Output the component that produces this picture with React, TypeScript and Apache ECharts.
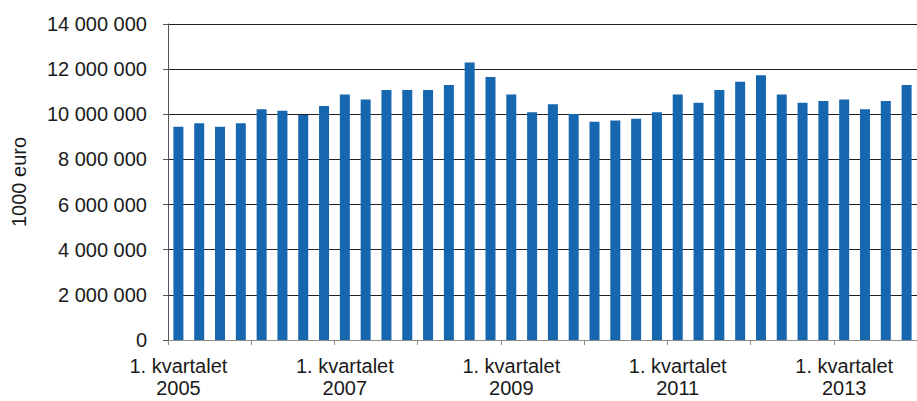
import React, { useEffect, useRef } from "react";
import * as echarts from "echarts";

const years = [2005, 2006, 2007, 2008, 2009, 2010, 2011, 2012, 2013];
const quarters = ["1. kvartalet", "2. kvartalet", "3. kvartalet", "4. kvartalet"];
const categories: string[] = [];
years.forEach((y) => quarters.forEach((q) => categories.push(`${q}\n${y}`)));

const values = [
  9450000, 9600000, 9450000, 9600000,
  10220000, 10160000, 9970000, 10370000,
  10880000, 10660000, 11080000, 11080000,
  11080000, 11300000, 12290000, 11650000,
  10880000, 10090000, 10440000, 10010000,
  9670000, 9730000, 9800000, 10090000,
  10880000, 10510000, 11080000, 11440000,
  11730000, 10880000, 10510000, 10590000,
  10660000, 10220000, 10590000, 11300000,
];

const yTicks = { min: 0, max: 14000000, interval: 2000000 };
const yName = "1000 euro";

const fmt = (v: number) => String(v).replace(/\B(?=(\d{3})+(?!\d))/g, " ");

export default function App() {
  const ref = useRef<HTMLDivElement>(null);
  useEffect(() => {
    if (!ref.current) return;
    const chart = echarts.init(ref.current, undefined, { renderer: "svg" });
    const font = "Liberation Sans, Arial, sans-serif";
    chart.setOption({
      animation: false,
      backgroundColor: "#ffffff",
      grid: { left: 168, top: 24, width: 756, height: 316, containLabel: false },
      xAxis: {
        type: "category",
        data: categories,
        boundaryGap: true,
        axisLine: { show: true, lineStyle: { color: "#8c8c8c", width: 1 } },
        axisTick: {
          show: true,
          length: 5,
          interval: (i: number) => i % 4 === 0,
          lineStyle: { color: "#8c8c8c" },
        },
        axisLabel: {
          interval: (i: number) => i % 8 === 0,
          color: "#1a1a1a",
          fontFamily: font,
          fontSize: 20,
          lineHeight: 22,
          margin: 15,
          align: "center",
        },
        splitLine: { show: false },
      },
      yAxis: {
        type: "value",
        min: yTicks.min,
        max: yTicks.max,
        interval: yTicks.interval,
        name: yName,
        nameLocation: "middle",
        nameGap: 139,
        nameRotate: 90,
        nameTextStyle: { color: "#1a1a1a", fontFamily: font, fontSize: 20 },
        axisLine: { show: true, lineStyle: { color: "#555555", width: 1 } },
        axisTick: { show: true, length: 5, lineStyle: { color: "#555555" } },
        axisLabel: {
          color: "#1a1a1a",
          fontFamily: font,
          fontSize: 20,
          margin: 21,
          formatter: (v: number) => fmt(v),
        },
        splitLine: { show: true, lineStyle: { color: "#1f1f1f", width: 1 } },
      },
      series: [
        {
          type: "bar",
          data: values,
          barWidth: 10,
          itemStyle: { color: "#1767b0" },
        },
      ],
    });
    return () => chart.dispose();
  }, []);
  return (
    <div
      ref={ref}
      style={{ position: "fixed", left: 0, top: 0, width: 917, height: 401, background: "#fff" }}
    />
  );
}
